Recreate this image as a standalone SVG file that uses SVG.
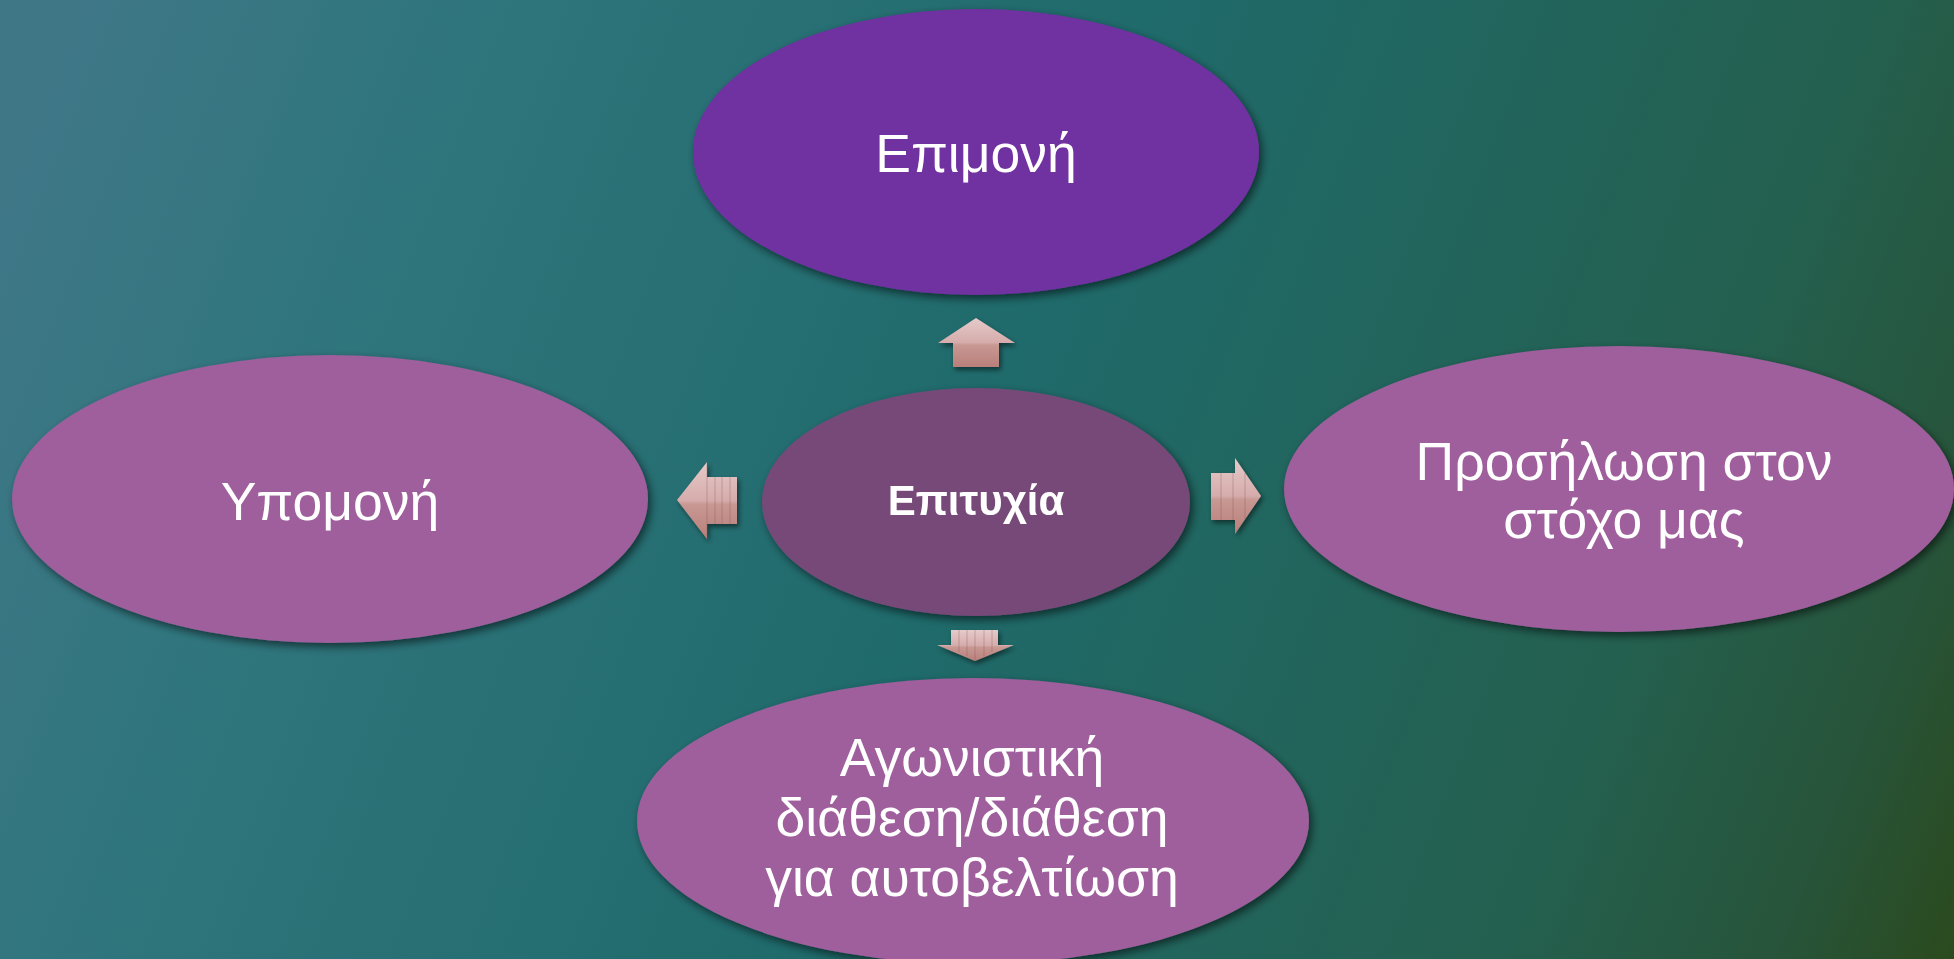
<svg xmlns="http://www.w3.org/2000/svg" width="1954" height="959" viewBox="0 0 1954 959">
  <defs>
    <linearGradient id="bg" gradientUnits="userSpaceOnUse" x1="0" y1="200" x2="1954" y2="959">
      <stop offset="0" stop-color="#3f7787"/>
      <stop offset="0.15" stop-color="#31767e"/>
      <stop offset="0.48" stop-color="#1f6a6b"/>
      <stop offset="0.8" stop-color="#24604f"/>
      <stop offset="0.92" stop-color="#27543a"/>
      <stop offset="1" stop-color="#2b4a1e"/>
    </linearGradient>
    <linearGradient id="arrowFill" x1="0" y1="0" x2="0" y2="1">
      <stop offset="0" stop-color="#e6caca"/>
      <stop offset="0.5" stop-color="#d5acab"/>
      <stop offset="0.55" stop-color="#c89893"/>
      <stop offset="1" stop-color="#b97f7a"/>
    </linearGradient>
    <filter id="shadow" x="-10%" y="-10%" width="125%" height="130%">
      <feDropShadow dx="3" dy="4" stdDeviation="4" flood-color="#000" flood-opacity="0.55"/>
    </filter>
    <filter id="ashadow" x="-30%" y="-30%" width="170%" height="170%">
      <feDropShadow dx="2" dy="3" stdDeviation="2.5" flood-color="#000" flood-opacity="0.5"/>
    </filter>
  </defs>
  <style>
    .lbl { font-family: "Liberation Sans", Arial, "Noto Sans", sans-serif; fill: #ffffff; text-anchor: middle; font-size: 53.5px; }
    .ctr { font-family: "Liberation Sans", Arial, "Noto Sans", sans-serif; fill: #ffffff; text-anchor: middle; font-size: 42px; font-weight: bold; }
    .side { fill: #9f5f9c; }
    .arrow { fill: url(#arrowFill); }
    .stripe { stroke: #7a4a48; stroke-opacity: 0.3; stroke-width: 1; }
  </style>

  <rect x="0" y="0" width="1954" height="959" fill="url(#bg)"/>

  <g id="connectors" filter="url(#ashadow)">
    <g id="arrow-up">
      <polygon class="arrow" points="976,318 1015,343 999,343 999,367 953,367 953,343 938,343"/>
    </g>
    <g id="arrow-left">
      <polygon class="arrow" points="677,500 707,462 707,477 737,477 737,524 707,524 707,539"/>
      <line class="stripe" x1="707" y1="463" x2="707" y2="538"/>
      <line class="stripe" x1="715" y1="477" x2="715" y2="524"/>
      <line class="stripe" x1="722" y1="477" x2="722" y2="524"/>
      <line class="stripe" x1="730" y1="477" x2="730" y2="524"/>
    </g>
    <g id="arrow-right">
      <polygon class="arrow" points="1211,473 1235,473 1235,458 1261,496 1235,534 1235,520 1211,520"/>
      <line class="stripe" x1="1221" y1="473" x2="1221" y2="520"/>
      <line class="stripe" x1="1233" y1="473" x2="1233" y2="520"/>
      <line class="stripe" x1="1245" y1="473" x2="1245" y2="519"/>
    </g>
    <g id="arrow-down">
      <polygon class="arrow" points="951,630 998,630 998,645 1014,645 975,661 937,645 951,645"/>
      <line class="stripe" x1="959" y1="630" x2="959" y2="652"/>
      <line class="stripe" x1="967" y1="630" x2="967" y2="656"/>
      <line class="stripe" x1="975" y1="630" x2="975" y2="660"/>
      <line class="stripe" x1="984" y1="630" x2="984" y2="656"/>
      <line class="stripe" x1="992" y1="630" x2="992" y2="652"/>
    </g>
  </g>

  <g id="node-top" filter="url(#shadow)">
    <ellipse cx="976" cy="152" rx="283" ry="143" fill="#7030a0"/>
    <text class="lbl" x="976" y="172">Επιμονή</text>
  </g>

  <g id="node-left" filter="url(#shadow)">
    <ellipse class="side" cx="330" cy="499" rx="318" ry="144"/>
    <text class="lbl" x="330" y="520">Υπομονή</text>
  </g>

  <g id="node-right" filter="url(#shadow)">
    <ellipse class="side" cx="1619" cy="489" rx="335" ry="143"/>
    <text class="lbl" x="1624" y="480">Προσήλωση στον</text>
    <text class="lbl" x="1624" y="538">στόχο μας</text>
  </g>

  <g id="node-bottom" filter="url(#shadow)">
    <ellipse class="side" cx="973" cy="821" rx="336" ry="143"/>
    <text class="lbl" x="972" y="776">Αγωνιστική</text>
    <text class="lbl" x="972" y="836">διάθεση/διάθεση</text>
    <text class="lbl" x="972" y="896">για αυτοβελτίωση</text>
  </g>

  <g id="node-center" filter="url(#shadow)">
    <ellipse cx="976" cy="502" rx="214" ry="114" fill="#764a78"/>
    <text class="ctr" x="976" y="515">Επιτυχία</text>
  </g>
</svg>
